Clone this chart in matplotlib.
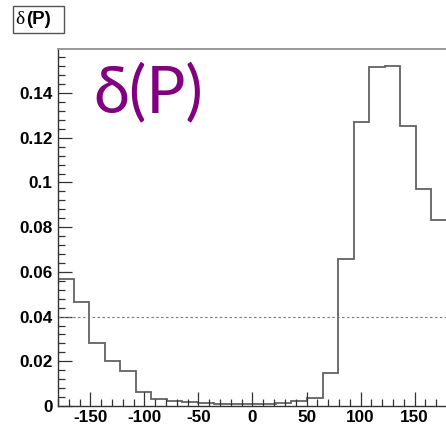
import numpy as np
import matplotlib
matplotlib.use("Agg")
import matplotlib.pyplot as plt
from matplotlib.ticker import MultipleLocator, FixedLocator
from matplotlib.font_manager import FontProperties

plt.rcParams["axes.unicode_minus"] = False

# Histogram of delta(P): 25 bins of 14.4 degrees over [-180, 180]
bin_lo, bin_hi, n_bins = -180.0, 180.0, 25
values = [0.0567, 0.0464, 0.0283, 0.0201, 0.0156, 0.0061, 0.0031, 0.0022,
          0.0017, 0.0014, 0.0011, 0.0009, 0.0008, 0.0009, 0.0012, 0.0021,
          0.0034, 0.0147, 0.0656, 0.1271, 0.1515, 0.1521, 0.1253, 0.0970,
          0.0830]
reference_level = 0.04
x_ticks = [-150, -100, -50, 0, 50, 100, 150]
y_ticks = [0, 0.02, 0.04, 0.06, 0.08, 0.10, 0.12, 0.14]
y_tick_labels = ["0", "0.02", "0.04", "0.06", "0.08", "0.1", "0.12", "0.14"]
y_max = 1.05 * max(values)

W, H = 446, 425
fig = plt.figure(figsize=(W / 100, H / 100), dpi=100)
ax = fig.add_axes([58 / W, (H - 406) / H, 389 / W, 357 / H])

edges = np.linspace(bin_lo, bin_hi, n_bins + 1)
ax.stairs(values, edges, color="#626262", linewidth=1.3, baseline=None)
ax.axhline(reference_level, color="#777777", linewidth=0.8,
           linestyle=(0, (2.2, 2.2)))

ax.set_xlim(bin_lo, bin_hi)
ax.set_ylim(0, y_max)

ax.xaxis.set_major_locator(FixedLocator(x_ticks))
ax.xaxis.set_minor_locator(MultipleLocator(10))
ax.yaxis.set_major_locator(FixedLocator(y_ticks))
ax.yaxis.set_minor_locator(MultipleLocator(0.004))
ax.set_xticklabels([str(t) for t in x_ticks])
ax.set_yticklabels(y_tick_labels)

tick_font = FontProperties(family=["Liberation Sans", "DejaVu Sans"],
                           weight="bold", size=12.3)
for lab in ax.get_xticklabels() + ax.get_yticklabels():
    lab.set_fontproperties(tick_font)

ax.tick_params(which="both", direction="in", top=False, right=False,
               color="#333333", width=0.9)
ax.tick_params(which="major", length=10)
ax.tick_params(which="minor", length=5)
ax.tick_params(axis="x", pad=3)
ax.tick_params(axis="y", pad=4)

for side in ["left", "bottom"]:
    ax.spines[side].set_color("#333333")
    ax.spines[side].set_linewidth(1.0)
ax.spines["top"].set_color("#999999")
ax.spines["top"].set_linewidth(1.4)
ax.spines["right"].set_color("#999999")

# Large label inside the frame
ax.text(0.090, 0.962, "δ(P)", transform=ax.transAxes, color="#800080",
        fontsize=47, family=["Lato", "DejaVu Sans"], va="top", ha="left")

# Histogram title box
fig.text(15 / W, 1 - 19.5 / H, "δ", fontsize=14,
         family=["Liberation Serif", "DejaVu Serif"], va="center", ha="left")
fig.text(26.5 / W, 1 - 19.5 / H, "(P)", fontsize=13.5, weight="bold",
         family=["Liberation Sans", "DejaVu Sans"], va="center", ha="left")
box = plt.Rectangle((13 / W, 1 - 33 / H), 51 / W, 27 / H,
                    transform=fig.transFigure, fill=False,
                    edgecolor="#555555", linewidth=1.0)
fig.add_artist(box)

fig.savefig("out.png", dpi=100)
